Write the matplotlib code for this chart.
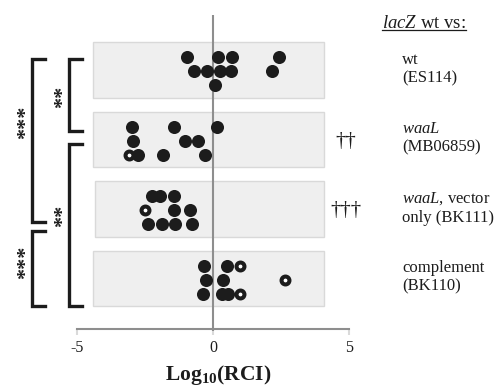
import matplotlib
matplotlib.use("Agg")
import matplotlib.pyplot as plt
from matplotlib.lines import Line2D
from matplotlib.patches import Rectangle

# Log10(RCI) per co-inoculation, one list per strain
wt_vals = [-0.96, 0.18, 0.70, 2.43, -0.70, -0.22, 0.26, 0.66, 2.17, 0.07]
waal_vals = [-2.98, -1.43, 0.15, -2.94, -1.03, -0.55, -3.09, -2.76, -1.84, -0.29]
vector_vals = [-2.24, -1.95, -1.43, -2.50, -1.43, -0.85, -2.39, -1.88, -1.40, -0.77]
compl_vals = [-0.33, 0.51, 0.99, -0.26, 0.37, 2.65, -0.37, 0.33, 0.55, 0.99]

# swarm lane of each point (-1 top, 0 middle, 1 bottom)
wt_lane = [-1, -1, -1, -1, 0, 0, 0, 0, 0, 1]
waal_lane = [-1, -1, -1, 0, 0, 0, 1, 1, 1, 1]
vector_lane = [-1, -1, -1, 0, 0, 0, 1, 1, 1, 1]
compl_lane = [-1, -1, -1, 0, 0, 0, 1, 1, 1, 1]

# open symbols
wt_open = [0] * 10
waal_open = [0, 0, 0, 0, 0, 0, 1, 0, 0, 0]
vector_open = [0, 0, 0, 1, 0, 0, 0, 0, 0, 0]
compl_open = [0, 0, 1, 0, 0, 1, 0, 0, 0, 1]

strain_labels = ["wt\n(ES114)",
                 "$\\mathit{waaL}$\n(MB06859)",
                 "$\\mathit{waaL}$, vector\nonly (BK111)",
                 "complement\n(BK110)"]
dagger_labels = ["", "\u2020\u2020", "\u2020\u2020\u2020", ""]
xticks = [-5, 0, 5]

# significance brackets: label, bracket x (px), top/bottom (px), star position (px)
brackets = [
    ("**", 69, 59, 131, 63, 97),
    ("***", 32, 59, 222, 26, 122),
    ("**", 69, 144, 306, 63, 216),
    ("***", 32, 231, 306, 26, 262),
]

plt.rcParams.update({
    "font.family": ["Liberation Serif", "DejaVu Serif"],
    "mathtext.fontset": "custom",
    "mathtext.rm": "Liberation Serif",
    "mathtext.it": "Liberation Serif:italic",
    "mathtext.bf": "Liberation Serif:bold",
    "axes.unicode_minus": False,
})

W, H = 498, 388
ROW0, STEP = 70.0, 69.5
ink = "#1c1c1c"
gray = "#8e8e8e"


def fx(px):
    return px / W


def fy(py):
    return 1 - py / H


def row_of(py):
    return (py - ROW0) / STEP


fig = plt.figure(figsize=(W / 100, H / 100), dpi=100)
ax = fig.add_axes([fx(77), 0, fx(349) - fx(77), 1])
ax.set_xlim(-5, 5)
ax.set_ylim(row_of(H), row_of(0))

groups = [
    (wt_vals, wt_lane, wt_open),
    (waal_vals, waal_lane, waal_open),
    (vector_vals, vector_lane, vector_open),
    (compl_vals, compl_lane, compl_open),
]
box_left = [-4.41, -4.41, -4.33, -4.41]
for i, (vals, lanes, opens) in enumerate(groups):
    ax.add_patch(Rectangle((box_left[i], i - 0.4), 4.08 - box_left[i], 0.8,
                           facecolor="#efefef", edgecolor="#d9d9d9", lw=1.0, zorder=1))
    ys = [i + 0.02 + 0.2 * ln for ln in lanes]
    ox = [v for v, o in zip(vals, opens) if o]
    oy = [y for y, o in zip(ys, opens) if o]
    fxs = [v for v, o in zip(vals, opens) if not o]
    fys = [y for y, o in zip(ys, opens) if not o]
    ax.scatter(ox, oy, s=5.7 ** 2, facecolor="white", edgecolor=ink,
               linewidths=2.9, zorder=3)
    ax.scatter(fxs, fys, s=9.4 ** 2, color=ink, linewidths=0, zorder=4)

ax.plot([0, 0], [row_of(15), row_of(331)], color=gray, lw=1.5, zorder=2,
        solid_capstyle="butt")

for side in ["left", "right", "top"]:
    ax.spines[side].set_visible(False)
ax.spines["bottom"].set_position(("data", row_of(329)))
ax.spines["bottom"].set_color(gray)
ax.spines["bottom"].set_linewidth(1.5)
ax.set_yticks([])
ax.set_xticks(xticks)
ax.set_xticklabels([str(t) for t in xticks])
ax.tick_params(axis="x", length=4, width=1.5, color="#dadada", labelsize=11.5,
               pad=4, labelcolor=ink)
ax.patch.set_visible(False)

fig.text(fx(218), fy(375), r"$\mathbf{Log_{10}(RCI)}$", ha="center", va="center",
         fontsize=15.5, color=ink)

# brackets + stars
for label, bx, top, bot, sx, sy in brackets:
    fig.add_artist(Line2D([fx(bx + 12.5), fx(bx), fx(bx), fx(bx + 12.5)],
                          [fy(top), fy(top), fy(bot), fy(bot)],
                          color=ink, lw=2.4, solid_capstyle="projecting",
                          solid_joinstyle="miter"))
    fig.text(fx(sx), fy(sy), label, rotation=90, ha="center", va="center",
             fontsize=16, fontweight="bold", color=ink)

# daggers and strain legend
for i, (lab, dg) in enumerate(zip(strain_labels, dagger_labels)):
    ypx = ROW0 + STEP * i
    if dg:
        fig.text(fx(346), fy(ypx + 2), dg, ha="center", va="center",
                 fontsize=15, color=ink)
    fig.text(fx(402), fy(ypx - 1), lab, ha="left", va="center", fontsize=12,
             color=ink, linespacing=1.2)

hdr = fig.text(fx(382), fy(23), r"$\mathit{lacZ}$ wt vs:", ha="left", va="center",
               fontsize=13.5, color=ink)
fig.canvas.draw()
bb = hdr.get_window_extent()
fig.add_artist(Line2D([bb.x0 / W, bb.x1 / W], [fy(30), fy(30)], color=ink, lw=0.9))

fig.savefig("out.png", dpi=100, facecolor="white")
